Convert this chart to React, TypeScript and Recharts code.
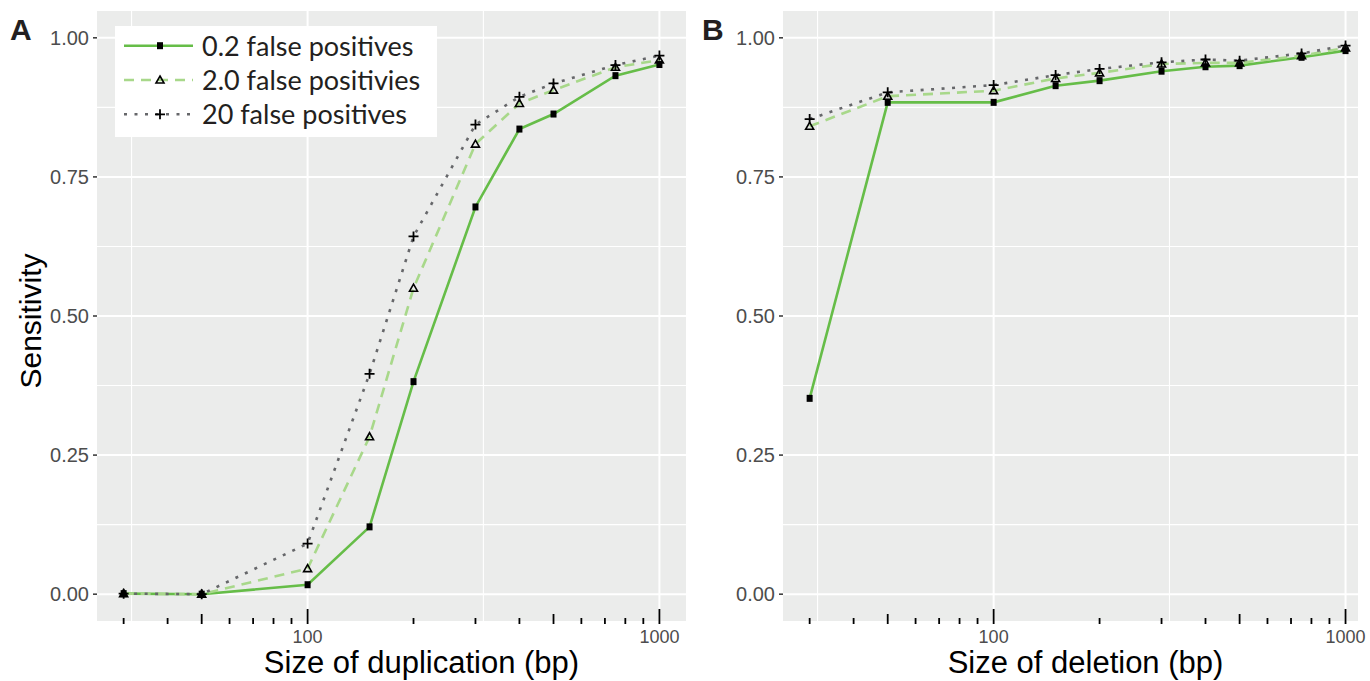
import React from "react";
import { LineChart, Line, XAxis, YAxis, CartesianGrid, ReferenceLine } from "recharts";

// sizes in bp (x axis, log scale)
const sizes = [30, 50, 100, 150, 200, 300, 400, 500, 750, 1000];

// panel A: duplications
const dupLow = [0.001, 0.0, 0.017, 0.121, 0.382, 0.696, 0.836, 0.863, 0.932, 0.952];
const dupMid = [0.001, 0.0, 0.046, 0.283, 0.55, 0.809, 0.882, 0.906, 0.947, 0.96];
const dupHigh = [0.001, 0.0, 0.091, 0.396, 0.643, 0.844, 0.894, 0.918, 0.951, 0.968];

// panel B: deletions
const delLow = [0.352, 0.884, 0.884, 0.914, 0.923, 0.94, 0.948, 0.95, 0.965, 0.977];
const delMid = [0.841, 0.895, 0.905, 0.927, 0.937, 0.953, 0.955, 0.955, 0.968, 0.982];
const delHigh = [0.854, 0.902, 0.915, 0.933, 0.944, 0.956, 0.961, 0.959, 0.972, 0.986];

const seriesNames = ["0.2 false positives", "2.0 false positivies", "20 false positives"];

const yTicks = [0, 0.25, 0.5, 0.75, 1];
const yMinor = [0.125, 0.375, 0.625, 0.875];
const xMajor = [100, 1000];
const xMinor = [31.6, 316];
const logTicks = [30, 40, 50, 60, 70, 80, 90, 100, 200, 300, 400, 500, 600, 700, 800, 900, 1000];
const midTicks = [50, 500];

const FONT = "'Liberation Sans', Arial, Helvetica, sans-serif";
const PANEL_BG = "#ebeceb";

const SERIES = [
  { key: "low", name: seriesNames[0], color: "#66bd48", dash: undefined, marker: "square" },
  { key: "mid", name: seriesNames[1], color: "#a8d88a", dash: "10 7", marker: "triangle" },
  { key: "high", name: seriesNames[2], color: "#66676a", dash: "3 7.5", marker: "plus" },
];

function Marker({ kind, cx, cy }: { kind: string; cx: number; cy: number }) {
  if (cx == null || cy == null) return null;
  if (kind === "square") {
    return <rect x={cx - 3} y={cy - 3.5} width={6} height={7} fill="#000" />;
  }
  if (kind === "triangle") {
    return (
      <path
        d={`M${cx},${cy - 4} L${cx + 4},${cy + 3} L${cx - 4},${cy + 3} Z`}
        fill="none"
        stroke="#000"
        strokeWidth={1.6}
      />
    );
  }
  return (
    <path
      d={`M${cx - 5},${cy} H${cx + 5} M${cx},${cy - 5} V${cy + 5}`}
      stroke="#000"
      strokeWidth={1.8}
      fill="none"
    />
  );
}

function LogTick(props: any) {
  const { x, y, payload } = props;
  const v = payload.value;
  const len = xMajor.includes(v) ? 15 : midTicks.includes(v) ? 10 : 6;
  return (
    <g>
      <line x1={x} x2={x} y1={y + 2} y2={y + 2 - len} stroke="#000" strokeWidth={1.8} />
      {xMajor.includes(v) && (
        <text x={x} y={y + 21} textAnchor="middle" fontSize={18} fontFamily={FONT} fill="#4d4d4d">
          {v}
        </text>
      )}
    </g>
  );
}

type PanelProps = {
  left: number;
  width: number;
  marginRight: number;
  yAxisWidth: number;
  xDomain: [number, number];
  low: number[];
  mid: number[];
  high: number[];
  title: string;
  titleShift: number;
  yTitle?: string;
};

function Panel({ left, width, marginRight, yAxisWidth, xDomain, low, mid, high, title, titleShift, yTitle }: PanelProps) {
  const data = sizes.map((s, i) => ({ size: s, low: low[i], mid: mid[i], high: high[i] }));
  return (
    <div style={{ position: "absolute", left, top: 0 }}>
      <LineChart width={width} height={681} data={data} margin={{ top: 10, right: marginRight, bottom: 0, left: 0 }}>
        <CartesianGrid fill={PANEL_BG} fillOpacity={1} stroke="#fff" strokeWidth={2} vertical={false} />
        {yMinor.map((v) => (
          <ReferenceLine key={`ym${v}`} y={v} stroke="#fff" strokeWidth={1.1} />
        ))}
        {xMinor.map((v) => (
          <ReferenceLine key={`xm${v}`} x={v} stroke="#fff" strokeWidth={1.1} />
        ))}
        {xMajor.map((v) => (
          <ReferenceLine key={`xM${v}`} x={v} stroke="#fff" strokeWidth={2} />
        ))}
        <XAxis
          dataKey="size"
          type="number"
          scale="log"
          domain={xDomain}
          allowDataOverflow
          ticks={logTicks}
          interval={0}
          tick={<LogTick />}
          tickLine={false}
          axisLine={false}
          tickSize={0}
          tickMargin={0}
          height={59}
          label={(p: any) => {
            const vb = p.viewBox;
            return (
              <text
                x={vb.x + vb.width / 2 + titleShift}
                y={vb.y + 51}
                textAnchor="middle"
                fontSize={31}
                fontFamily={FONT}
                fill="#000"
              >
                {title}
              </text>
            );
          }}
        />
        <YAxis
          type="number"
          domain={[-0.05, 1.05]}
          allowDataOverflow
          ticks={yTicks}
          tickFormatter={(v: number) => v.toFixed(2)}
          tick={{ fill: "#4d4d4d", fontSize: 20, fontFamily: FONT }}
          tickLine={{ stroke: "#333", strokeWidth: 1.5 }}
          tickSize={4}
          tickMargin={4}
          axisLine={false}
          width={yAxisWidth}
          label={
            yTitle
              ? (p: any) => {
                  const vb = p.viewBox;
                  const cx = vb.x + 30;
                  const cy = vb.y + vb.height / 2 + 5;
                  return (
                    <text
                      x={cx}
                      y={cy}
                      transform={`rotate(-90, ${cx}, ${cy})`}
                      textAnchor="middle"
                      dominantBaseline="central"
                      fontSize={30}
                      fontFamily={FONT}
                      fill="#000"
                    >
                      {yTitle}
                    </text>
                  );
                }
              : undefined
          }
        />
        {SERIES.map((s) => (
          <Line
            key={s.key}
            type="linear"
            dataKey={s.key}
            name={s.name}
            stroke={s.color}
            strokeWidth={2.6}
            strokeDasharray={s.dash}
            dot={(p: any) => <Marker key={`${s.key}-${p.index}`} kind={s.marker} cx={p.cx} cy={p.cy} />}
            activeDot={false}
            isAnimationActive={false}
          />
        ))}
      </LineChart>
    </div>
  );
}

function LegendBox() {
  return (
    <svg width={322} height={111} style={{ position: "absolute", left: 115, top: 26 }}>
      <rect x={0} y={0} width={322} height={111} fill="#fff" />
      {SERIES.map((s, i) => {
        const cy = 19.7 + i * 34.3;
        return (
          <g key={s.key}>
            <line x1={9} x2={78} y1={cy} y2={cy} stroke={s.color} strokeWidth={2.6} strokeDasharray={s.dash} />
            <Marker kind={s.marker} cx={45} cy={cy} />
            <text x={87} y={cy + 10} fontSize={27} fontFamily="Lato, 'Noto Sans', sans-serif" fill="#231f20">
              {s.name}
            </text>
          </g>
        );
      })}
    </svg>
  );
}

const letterStyle: React.CSSProperties = {
  position: "absolute",
  top: 14.6,
  fontFamily: FONT,
  fontWeight: 700,
  fontSize: 30,
  lineHeight: "30px",
  color: "#231f20",
};

export default function App() {
  return (
    <div
      style={{
        position: "absolute",
        left: 0,
        top: 0,
        width: 1370,
        height: 681,
        overflow: "hidden",
        background: "#fff",
      }}
    >
      <Panel
        left={0}
        width={700}
        marginRight={14}
        yAxisWidth={97}
        xDomain={[25.2, 1190]}
        low={dupLow}
        mid={dupMid}
        high={dupHigh}
        title="Size of duplication (bp)"
        titleShift={30}
        yTitle="Sensitivity"
      />
      <Panel
        left={690}
        width={680}
        marginRight={12}
        yAxisWidth={93}
        xDomain={[25.2, 1085]}
        low={delLow}
        mid={delMid}
        high={delHigh}
        title="Size of deletion (bp)"
        titleShift={15}
      />
      <LegendBox />
      <div style={{ ...letterStyle, left: 10 }}>A</div>
      <div style={{ ...letterStyle, left: 702 }}>B</div>
    </div>
  );
}
